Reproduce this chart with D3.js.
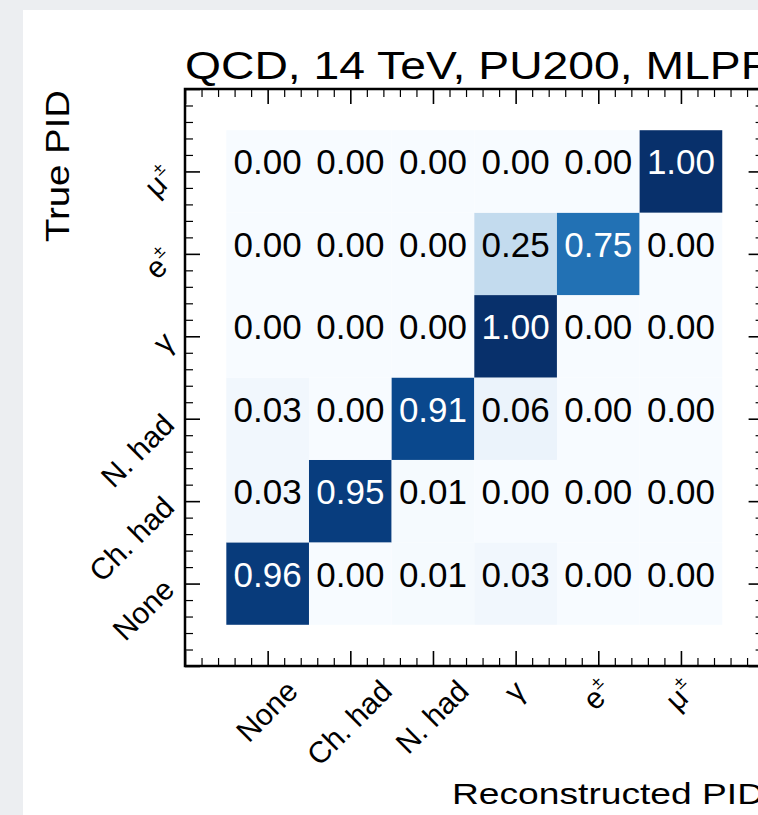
<!DOCTYPE html>
<html>
<head>
<meta charset="UTF-8"/>
<title>MLPF confusion matrix</title>
<script src="https://d3js.org/d3.v7.min.js"></script>
<style>
body {
    margin: 0;
    background-color: #eceef1;
    overflow: hidden;
}
text {
    font-family: "Liberation Sans", Arial, Helvetica, sans-serif;
}
</style>
</head>
<body>
<div id="chart"></div>
<script>

// DATA
var classes = ["None", "Ch. had", "N. had", "γ", "e", "μ"];
var classSup = ["", "", "", "", "±", "±"];
// rows = true PID (None at the bottom), columns = reconstructed PID
var rowNone  = [0.96, 0.00, 0.01, 0.03, 0.00, 0.00];
var rowChHad = [0.03, 0.95, 0.01, 0.00, 0.00, 0.00];
var rowNHad  = [0.03, 0.00, 0.91, 0.06, 0.00, 0.00];
var rowGamma = [0.00, 0.00, 0.00, 1.00, 0.00, 0.00];
var rowEle   = [0.00, 0.00, 0.00, 0.25, 0.75, 0.00];
var rowMu    = [0.00, 0.00, 0.00, 0.00, 0.00, 1.00];
var matrix = [rowNone, rowChHad, rowNHad, rowGamma, rowEle, rowMu];
var majorTicks = [-1, 0, 1, 2, 3, 4, 5, 6];
var title = "QCD, 14 TeV, PU200, MLPF";
var xTitle = "Reconstructed PID";
var yTitle = "True PID";

// MAIN
var W = 758, H = 815;
var svg = d3.select("#chart").append("svg")
    .attr("width", W)
    .attr("height", H);

// white page card
svg.append("rect")
    .attr("x", 23).attr("y", 10)
    .attr("width", W).attr("height", H)
    .attr("fill", "white");

var x = d3.scaleLinear().domain([-1, 6]).range([185, 763.6]);
var y = d3.scaleLinear().domain([-1, 6]).range([666, 89]);
var color = d3.scaleSequential(d3.interpolateBlues).domain([0, 1]);

// cells
for (var i = 0; i < matrix.length; i++) {
    for (var j = 0; j < matrix[i].length; j++) {
        var v = matrix[i][j];
        svg.append("rect")
            .attr("x", x(j - 0.5))
            .attr("y", y(i + 0.5))
            .attr("width", x(j + 0.5) - x(j - 0.5))
            .attr("height", y(i - 0.5) - y(i + 0.5))
            .attr("fill", color(v));
        svg.append("text")
            .attr("x", x(j))
            .attr("y", y(i) + 3)
            .attr("text-anchor", "middle")
            .attr("font-size", 35)
            .attr("fill", v > 0.5 ? "white" : "black")
            .text(v.toFixed(2));
    }
}

// ticks, all pointing inward
var minorTicks = d3.range(-1, 6.001, 0.2)
    .map(function(d) { return Math.round(d * 10) / 10; })
    .filter(function(d) { return majorTicks.indexOf(d) < 0; });

function drawTicks(axis, scale, tx, ty, values, size, width) {
    var g = svg.append("g")
        .attr("transform", "translate(" + tx + "," + ty + ")")
        .call(axis(scale).tickValues(values).tickSize(-size).tickFormat(""));
    g.select(".domain").remove();
    g.selectAll("line").attr("stroke", "black").attr("stroke-width", width);
}
[[majorTicks, 15, 1.6], [minorTicks, 8, 1.2]].forEach(function(t) {
    drawTicks(d3.axisBottom, x, 0, y(-1), t[0], t[1], t[2]);
    drawTicks(d3.axisTop, x, 0, y(6), t[0], t[1], t[2]);
    drawTicks(d3.axisLeft, y, x(-1), 0, t[0], t[1], t[2]);
    drawTicks(d3.axisRight, y, x(6), 0, t[0], t[1], t[2]);
});

// frame
svg.append("rect")
    .attr("x", x(-1)).attr("y", y(6))
    .attr("width", x(6) - x(-1))
    .attr("height", y(-1) - y(6))
    .attr("fill", "none")
    .attr("stroke", "black")
    .attr("stroke-width", 2.5);

// tick labels, rotated 45 degrees
function labelText(g, k) {
    var t = g.append("text").attr("font-size", 30).attr("fill", "black");
    t.append("tspan").text(classes[k]);
    if (classSup[k] != "") {
        t.append("tspan").attr("font-size", 18).attr("dy", -14).text(classSup[k]);
    }
    return t;
}
for (var k = 0; k < classes.length; k++) {
    // x axis: box centred under the tick
    var tx = labelText(svg, k).attr("text-anchor", "middle").attr("dy", "0.35em");
    var w = tx.node().getComputedTextLength();
    var cx = x(k) - 1, cy = 675 + 0.707 * (w / 2 + 15);
    tx.attr("x", cx).attr("y", cy)
      .attr("transform", "rotate(-45," + cx + "," + cy + ")");

    // y axis: right end next to the axis
    var ty = labelText(svg, k).attr("text-anchor", "end");
    var px = 176, py = y(k) + 8;
    ty.attr("x", px).attr("y", py)
      .attr("transform", "rotate(-45," + px + "," + py + ")");
}

// titles
svg.append("text")
    .attr("x", x(-1)).attr("y", 79)
    .attr("font-size", 38)
    .attr("textLength", 584)
    .attr("lengthAdjust", "spacingAndGlyphs")
    .text(title);

svg.append("text")
    .attr("x", 764).attr("y", 804)
    .attr("text-anchor", "end")
    .attr("font-size", 30)
    .attr("textLength", 312)
    .attr("lengthAdjust", "spacingAndGlyphs")
    .text(xTitle);

svg.append("text")
    .attr("transform", "translate(69,90) rotate(-90)")
    .attr("text-anchor", "end")
    .attr("font-size", 34)
    .attr("textLength", 152)
    .attr("lengthAdjust", "spacingAndGlyphs")
    .text(yTitle);

</script>
</body>
</html>
